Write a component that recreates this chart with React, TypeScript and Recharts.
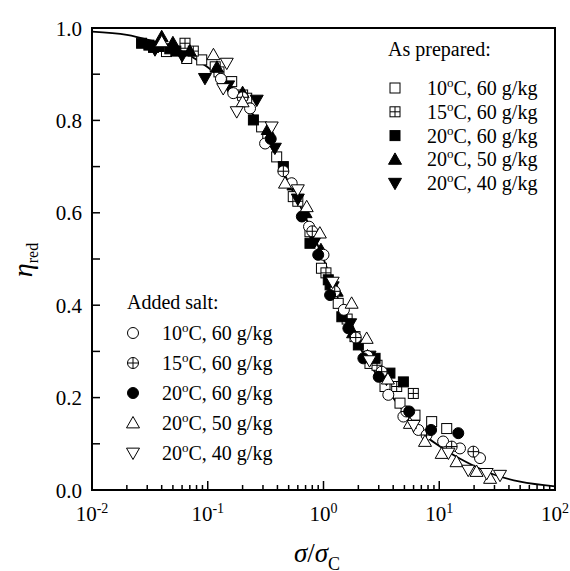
import React from 'react';
import { ComposedChart, XAxis, YAxis, Line, Scatter, ReferenceArea, Customized } from 'recharts';

const FONT = '"Liberation Serif", "Times New Roman", serif';

// master curve
const curveX = [0.01, 0.02, 0.03, 0.05, 0.1, 0.2, 0.3, 0.5, 0.7, 1, 1.5, 2, 3, 5, 7, 10, 15, 20, 30, 50, 100];
const curveY = [0.992, 0.985, 0.975, 0.958, 0.915, 0.845, 0.777, 0.665, 0.59, 0.5, 0.382, 0.315, 0.243, 0.168, 0.125, 0.095, 0.068, 0.052, 0.033, 0.018, 0.008];

// As prepared
const ap10: [number, number][] = [[0.044, 0.949], [0.0658, 0.934], [0.0887, 0.931], [0.116, 0.916], [0.161, 0.884], [0.217, 0.848], [0.292, 0.786], [0.394, 0.721], [0.548, 0.635], [0.764, 0.559], [0.96, 0.48], [1.34, 0.404], [1.87, 0.332], [2.52, 0.274], [3.4, 0.224], [4.58, 0.188], [6.17, 0.162], [8.6, 0.148], [11.6, 0.133]];
const ap15: [number, number][] = [[0.0636, 0.967], [0.075, 0.95], [0.125, 0.905], [0.2, 0.855], [0.33, 0.76], [0.6, 0.625], [1.05, 0.47], [1.6, 0.37], [2.9, 0.27], [4.29, 0.224], [5.97, 0.209]];
const ap20_60: [number, number][] = [[0.0268, 0.967], [0.031, 0.963], [0.034, 0.958], [0.038, 0.96], [0.047, 0.955], [0.053, 0.95], [0.248, 0.801], [0.45, 0.7], [0.764, 0.534], [1.1, 0.455], [1.14, 0.444], [1.44, 0.375], [2.0, 0.314], [2.79, 0.285], [3.75, 0.253], [4.9, 0.234]];
const ap20_50: [number, number][] = [[0.04, 0.981], [0.05, 0.968], [0.07, 0.95], [0.12, 0.915], [0.2, 0.86], [0.33, 0.78], [0.55, 0.66], [0.7, 0.6], [0.95, 0.52], [1.3, 0.43], [1.8, 0.34], [2.4, 0.29], [3.2, 0.25]];
const ap20_40: [number, number][] = [[0.035, 0.953], [0.06, 0.94], [0.0946, 0.891], [0.15, 0.875], [0.265, 0.844], [0.38, 0.74], [0.6, 0.63], [0.85, 0.54], [1.2, 0.44], [1.7, 0.36], [2.5, 0.29], [3.5, 0.24]];

// Added salt
const as10: [number, number][] = [[0.13, 0.89], [0.166, 0.859], [0.232, 0.826], [0.313, 0.75], [0.531, 0.664], [0.75, 0.57], [1.0, 0.509], [1.5, 0.39], [2.4, 0.29], [3.63, 0.206], [4.9, 0.159], [6.6, 0.13], [10.8, 0.105], [15.1, 0.09], [22.5, 0.069]];
const as15: [number, number][] = [[0.2, 0.85], [0.45, 0.69], [0.8, 0.56], [1.25, 0.43], [1.9, 0.33], [3.18, 0.256], [5.2, 0.17], [7.77, 0.119], [12.8, 0.094], [19.7, 0.083]];
const as20_60: [number, number][] = [[0.35, 0.76], [0.65, 0.592], [0.9, 0.509], [1.14, 0.422], [1.64, 0.35], [2.21, 0.285], [3.0, 0.245], [5.5, 0.17], [8.5, 0.13], [14.6, 0.123]];
const as20_50: [number, number][] = [[0.04, 0.97], [0.112, 0.942], [0.2, 0.84], [0.465, 0.664], [0.716, 0.613], [0.93, 0.556], [1.75, 0.404], [2.36, 0.328], [3.6, 0.24], [5.58, 0.144], [7.53, 0.105], [10.5, 0.079], [14.1, 0.061], [21, 0.04], [27.5, 0.025]];
const as20_40: [number, number][] = [[0.146, 0.924], [0.136, 0.869], [0.178, 0.819], [0.357, 0.786], [0.6, 0.65], [1.2, 0.45], [2.5, 0.28], [6, 0.14], [12, 0.08], [17.8, 0.043], [25.7, 0.036], [33.5, 0.032]];

const xTicks = [0.01, 0.02, 0.03, 0.04, 0.05, 0.06, 0.07, 0.08, 0.09, 0.1, 0.2, 0.3, 0.4, 0.5, 0.6, 0.7, 0.8, 0.9, 1, 2, 3, 4, 5, 6, 7, 8, 9, 10, 20, 30, 40, 50, 60, 70, 80, 90, 100];
const yTicks = [0, 0.1, 0.2, 0.3, 0.4, 0.5, 0.6, 0.7, 0.8, 0.9, 1.0];

const apTemps = ['10', '15', '20', '20', '20'];
const apConc = ['60', '60', '60', '50', '40'];
const asTemps = ['10', '15', '20', '20', '20'];
const asConc = ['60', '60', '60', '50', '40'];

type Kind = 'sq' | 'sqx' | 'sqf' | 'trif' | 'dtrif' | 'cir' | 'cirx' | 'cirf' | 'tri' | 'dtri';

const apKinds: Kind[] = ['sq', 'sqx', 'sqf', 'trif', 'dtrif'];
const asKinds: Kind[] = ['cir', 'cirx', 'cirf', 'tri', 'dtri'];

const Marker = ({ kind, cx, cy }: { kind: Kind; cx: number; cy: number }) => {
  const sw = 1;
  const h = 5;
  const r = 5.5;
  const t = 6.5;
  switch (kind) {
    case 'sq':
    case 'sqf':
      return <rect x={cx - h} y={cy - h} width={2 * h} height={2 * h} fill={kind === 'sqf' ? '#000' : '#fff'} stroke="#000" strokeWidth={sw} />;
    case 'sqx':
      return (
        <g>
          <rect x={cx - h} y={cy - h} width={2 * h} height={2 * h} fill="#fff" stroke="#000" strokeWidth={sw} />
          <line x1={cx - h} x2={cx + h} y1={cy} y2={cy} stroke="#000" strokeWidth={sw} />
          <line x1={cx} x2={cx} y1={cy - h} y2={cy + h} stroke="#000" strokeWidth={sw} />
        </g>
      );
    case 'cir':
    case 'cirf':
      return <circle cx={cx} cy={cy} r={r} fill={kind === 'cirf' ? '#000' : '#fff'} stroke="#000" strokeWidth={sw} />;
    case 'cirx':
      return (
        <g>
          <circle cx={cx} cy={cy} r={r} fill="#fff" stroke="#000" strokeWidth={sw} />
          <line x1={cx - r} x2={cx + r} y1={cy} y2={cy} stroke="#000" strokeWidth={sw} />
          <line x1={cx} x2={cx} y1={cy - r} y2={cy + r} stroke="#000" strokeWidth={sw} />
        </g>
      );
    case 'tri':
    case 'trif':
      return <polygon points={`${cx},${cy - t} ${cx - t},${cy + t * 0.75} ${cx + t},${cy + t * 0.75}`} fill={kind === 'trif' ? '#000' : '#fff'} stroke="#000" strokeWidth={sw} />;
    case 'dtri':
    case 'dtrif':
      return <polygon points={`${cx},${cy + t} ${cx - t},${cy - t * 0.75} ${cx + t},${cy - t * 0.75}`} fill={kind === 'dtrif' ? '#000' : '#fff'} stroke="#000" strokeWidth={sw} />;
  }
  return null;
};

const toPts = (a: [number, number][]) => a.map(([x, y]) => ({ x, y }));
const curve = curveX.map((x, i) => ({ x, y: curveY[i] }));

const series: { kind: Kind; data: [number, number][] }[] = [
  { kind: 'sq', data: ap10 },
  { kind: 'sqx', data: ap15 },
  { kind: 'sqf', data: ap20_60 },
  { kind: 'trif', data: ap20_50 },
  { kind: 'dtrif', data: ap20_40 },
  { kind: 'cir', data: as10 },
  { kind: 'cirx', data: as15 },
  { kind: 'cirf', data: as20_60 },
  { kind: 'tri', data: as20_50 },
  { kind: 'dtri', data: as20_40 },
];

const XTick = (p: any) => {
  const { x, y, payload } = p;
  const v = payload.value;
  const lg = Math.log10(v);
  const exp = Math.round(lg);
  const major = Math.abs(lg - exp) < 1e-6;
  return (
    <g>
      <line x1={x} x2={x} y1={y} y2={y - (major ? 9 : 5)} stroke="#000" strokeWidth={1.5} />
      {major && (
        <text x={x} y={y + 31} textAnchor="middle" fontFamily={FONT} fontSize={21} fill="#000">
          10<tspan dy={-8} fontSize={14}>{String(exp)}</tspan>
        </text>
      )}
    </g>
  );
};

const YTick = (p: any) => {
  const { x, y, payload } = p;
  const v = payload.value;
  const labeled = Math.round(v * 10) % 2 === 0;
  return (
    <g>
      <line x1={x} x2={x + 8} y1={y} y2={y} stroke="#000" strokeWidth={1.5} />
      {labeled && (
        <text x={x - 10} y={y + 7.5} textAnchor="end" fontFamily={FONT} fontSize={21} fill="#000">
          {v.toFixed(1)}
        </text>
      )}
    </g>
  );
};

const LegendRow = ({ kind, mx, tx, cy, temp, conc }: { kind: Kind; mx: number; tx: number; cy: number; temp: string; conc: string }) => (
  <g>
    <Marker kind={kind} cx={mx} cy={cy} />
    <text x={tx} y={cy + 7} fontFamily={FONT} fontSize={20} fill="#000">
      {temp}
      <tspan dy={-8} fontSize={13}>o</tspan>
      <tspan dy={8}>{`C, ${conc} g/kg`}</tspan>
    </text>
  </g>
);

const Decor = () => (
  <g>
    {/* As prepared legend */}
    <text x={388} y={56} fontFamily={FONT} fontSize={20} fill="#000">As prepared:</text>
    {apKinds.map((k, i) => (
      <LegendRow key={'ap' + i} kind={k} mx={395} tx={427} cy={88 + i * 23.8} temp={apTemps[i]} conc={apConc[i]} />
    ))}
    {/* Added salt legend */}
    <text x={127} y={309} fontFamily={FONT} fontSize={20} fill="#000">Added salt:</text>
    {asKinds.map((k, i) => (
      <LegendRow key={'as' + i} kind={k} mx={133} tx={162} cy={333 + i * 30} temp={asTemps[i]} conc={asConc[i]} />
    ))}
    {/* Axis titles */}
    <g transform="translate(32,260) rotate(-90)">
      <text x={0} y={0} textAnchor="middle" fontFamily={FONT} fill="#000">
        <tspan fontSize={28} fontStyle="italic">η</tspan>
        <tspan fontSize={16} dy={6}>red</tspan>
      </text>
    </g>
    <text x={317} y={562} textAnchor="middle" fontFamily={FONT} fill="#000">
      <tspan fontSize={27} fontStyle="italic">σ</tspan>
      <tspan fontSize={27}>/</tspan>
      <tspan fontSize={27} fontStyle="italic">σ</tspan>
      <tspan fontSize={18} dy={8}>C</tspan>
    </text>
  </g>
);

export default function App() {
  return (
    <div style={{ position: 'absolute', left: 0, top: 0 }}>
      <ComposedChart width={570} height={571} margin={{ top: 28, right: 15, left: 0, bottom: 11 }}>
        <XAxis
          dataKey="x"
          type="number"
          scale="log"
          domain={[0.01, 100]}
          allowDataOverflow
          ticks={xTicks}
          interval={0}
          axisLine={false}
          tickLine={false}
          tickSize={0}
          tickMargin={0}
          tick={<XTick />}
          height={70}
        />
        <YAxis
          dataKey="y"
          type="number"
          domain={[0, 1]}
          ticks={yTicks}
          interval={0}
          axisLine={false}
          tickLine={false}
          tickSize={0}
          tickMargin={0}
          tick={<YTick />}
          width={92}
        />
        <ReferenceArea x1={0.01} x2={100} y1={0} y2={1} fill="none" fillOpacity={0} stroke="#000" strokeWidth={2} ifOverflow="visible" />
        <Line data={curve} dataKey="y" type="monotone" stroke="#000" strokeWidth={1.8} dot={false} isAnimationActive={false} />
        {series.map((s, i) => (
          <Scatter
            key={i}
            data={toPts(s.data)}
            dataKey="y"
            isAnimationActive={false}
            shape={(p: any) => <Marker kind={s.kind} cx={p.cx} cy={p.cy} />}
          />
        ))}
        <Customized component={Decor} />
      </ComposedChart>
    </div>
  );
}
